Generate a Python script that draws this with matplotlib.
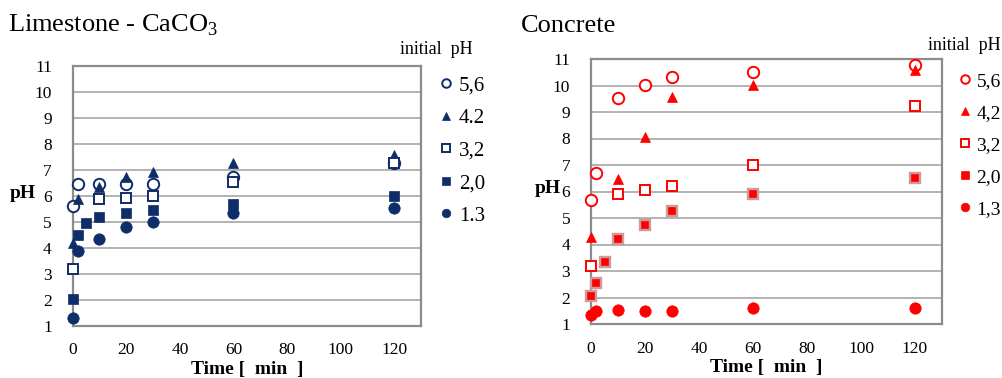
import matplotlib
matplotlib.use("Agg")
import matplotlib.pyplot as plt
from matplotlib.lines import Line2D

plt.rcParams["font.family"] = ["Liberation Serif", "DejaVu Serif"]
plt.rcParams["mathtext.fontset"] = "custom"
plt.rcParams["mathtext.rm"] = "Liberation Serif"

# sampling times [min] for each series
t_lime = {
    "5,6": [0, 2, 10, 20, 30, 60, 120],
    "4.2": [0, 2, 10, 20, 30, 60, 120],
    "3,2": [0, 10, 20, 30, 60, 120],
    "2,0": [0, 2, 5, 10, 20, 30, 60, 120],
    "1.3": [0, 2, 10, 20, 30, 60, 120],
}
ph_lime = {
    "5,6": [5.6, 6.44, 6.44, 6.44, 6.44, 6.73, 7.24],
    "4.2": [4.2, 5.87, 6.35, 6.73, 6.92, 7.27, 7.56],
    "3,2": [3.19, 5.87, 5.92, 6.0, 6.54, 7.24],
    "2,0": [2.04, 4.49, 4.96, 5.17, 5.35, 5.45, 5.7, 6.0],
    "1.3": [1.28, 3.88, 4.32, 4.78, 4.97, 5.35, 5.54],
}

t_conc = {
    "5,6": [0, 2, 10, 20, 30, 60, 120],
    "4,2": [0, 10, 20, 30, 60, 120],
    "3,2": [0, 10, 20, 30, 60, 120],
    "2,0": [0, 2, 5, 10, 20, 30, 60, 120],
    "1,3": [0, 2, 10, 20, 30, 60, 120],
}
ph_conc = {
    "5,6": [5.69, 6.69, 9.52, 10.02, 10.31, 10.52, 10.77],
    "4,2": [4.28, 6.48, 8.05, 9.58, 10.02, 10.59],
    "3,2": [3.17, 5.9, 6.06, 6.19, 7.0, 9.23],
    "2,0": [2.07, 2.55, 3.34, 4.2, 4.73, 5.27, 5.9, 6.5],
    "1,3": [1.33, 1.5, 1.54, 1.5, 1.5, 1.6, 1.6],
}

x_ticks = [0, 20, 40, 60, 80, 100, 120]
y_ticks = list(range(1, 12))

NAVY = "#0f2d69"
RED = "#ff0000"

# marker, filled?
styles = [("o", False), ("^", True), ("s", False), ("s", True), ("o", True)]


def marker_kw(marker, filled, color, big=True, halo=None):
    size = {"o": 8.2, "^": 7.6, "s": 6.8}[marker]
    if marker == "s" and filled:
        size = 7.6
    if not big:
        size *= 0.75
    kw = dict(marker=marker, linestyle="none", markersize=size,
              markeredgecolor=color, markeredgewidth=1.4)
    if filled:
        kw["markerfacecolor"] = color
        kw["markeredgewidth"] = 0.5
        if halo and marker == "s":
            kw["markeredgecolor"] = halo
            kw["markeredgewidth"] = 1.7
            kw["markersize"] = 6.5
    else:
        kw["markerfacecolor"] = "white"
    return kw


def draw_panel(fig, rect, times, values, color, title, title_x, legend_x, legend_y,
               legend_title_x, legend_title_y, ylabel_x, legend_size=15, halo=None):
    ax = fig.add_axes(rect)
    ax.set_xlim(0, 130)
    ax.set_ylim(1, 11)
    ax.set_xticks(x_ticks)
    ax.set_yticks(y_ticks)
    ax.tick_params(length=0, labelsize=12.5, pad=12)
    ax.tick_params(axis="y", pad=15)
    ax.yaxis.grid(True, color="#a6a6a6", linewidth=1.2)
    ax.set_axisbelow(True)
    for sp in ax.spines.values():
        sp.set_color("#8c8c8c")
        sp.set_linewidth(1.6)
    ax.set_xlabel("Time [  min  ]", fontsize=14, fontweight="bold", labelpad=2)
    ax.set_ylabel("pH", fontsize=14, fontweight="bold", rotation=0, va="center", ha="center")
    ax.yaxis.set_label_coords(ylabel_x, 0.51)

    handles = []
    for (label, ts), (marker, filled) in zip(times.items(), styles):
        ax.plot(ts, values[label], clip_on=False, zorder=3,
                **marker_kw(marker, filled, color, halo=halo))
        handles.append(Line2D([], [], label=label,
                              **marker_kw(marker, filled, color, big=False)))

    fig.text(title_x, 1 - 32 / 378, title, fontsize=19, va="baseline")
    fig.text(legend_title_x, legend_title_y, "initial  pH", fontsize=13, va="center")
    fig.legend(handles=handles, loc="upper left", bbox_to_anchor=(legend_x, legend_y),
               frameon=False, fontsize=legend_size, handlelength=0.6, handletextpad=0.3,
               labelspacing=0.62 * 15 / legend_size + 0.08 * (15 - legend_size),
               borderpad=0, borderaxespad=0)
    return ax


fig = plt.figure(figsize=(10.03, 3.78), dpi=100)

draw_panel(fig, [72.7 / 1003, 1 - 325.7 / 378, 348.3 / 1003, 260 / 378],
           t_lime, ph_lime, NAVY, r"Limestone - CaCO$_\mathrm{3}$",
           8 / 1003, 440 / 1003, 1 - 76 / 378, 400 / 1003, 1 - 50 / 378, -0.144)

draw_panel(fig, [591 / 1003, 1 - 324 / 378, 351 / 1003, 265 / 378],
           t_conc, ph_conc, RED, "Concrete",
           521 / 1003, 959 / 1003, 1 - 72 / 378, 928 / 1003, 1 - 46 / 378, -0.1225,
           legend_size=14, halo="#cf9a9a")

fig.savefig("out.png", dpi=100)
